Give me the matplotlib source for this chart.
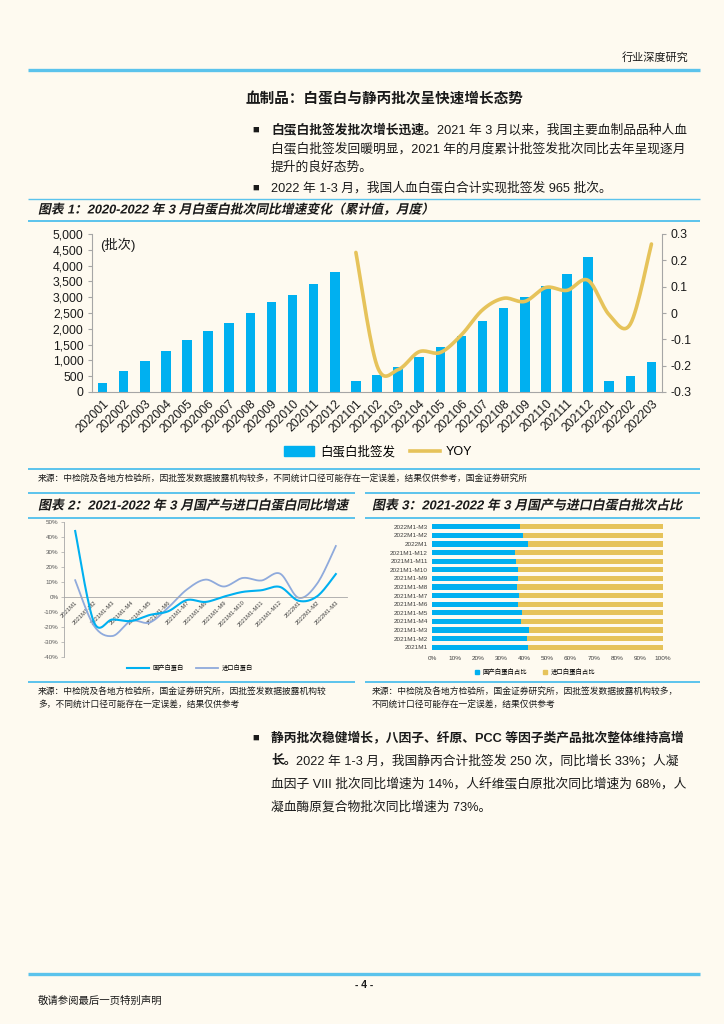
import numpy as np
import matplotlib
matplotlib.use('Agg')
import matplotlib.pyplot as plt
from matplotlib.lines import Line2D
from matplotlib.patches import Rectangle
from matplotlib.transforms import Affine2D
from matplotlib.patheffects import AbstractPathEffect

plt.rcParams['font.family'] = ['Liberation Sans', 'Noto Sans CJK SC']
plt.rcParams['axes.unicode_minus'] = False

# ---------------- data ----------------
months1 = ['202001', '202002', '202003', '202004', '202005', '202006', '202007', '202008',
           '202009', '202010', '202011', '202012', '202101', '202102', '202103', '202104',
           '202105', '202106', '202107', '202108', '202109', '202110', '202111', '202112',
           '202201', '202202', '202203']
approvals = [280, 660, 980, 1300, 1645, 1940, 2195, 2500, 2860, 3080, 3430, 3810,
             350, 550, 780, 1110, 1420, 1780, 2240, 2650, 3000, 3370, 3745, 4260,
             345, 515, 965]
yoy = [np.nan] * 12 + [0.230, -0.200, -0.215, -0.147, -0.150, -0.083, 0.012, 0.056,
                       0.044, 0.097, 0.086, 0.124, -0.007, -0.042, 0.262]

periods = ['2021M1', '2021M1-M2', '2021M1-M3', '2021M1-M4', '2021M1-M5', '2021M1-M6',
           '2021M1-M7', '2021M1-M8', '2021M1-M9', '2021M1-M10', '2021M1-M11',
           '2021M1-M12', '2022M1', '2022M1-M2', '2022M1-M3']
domestic_yoy = [44, -16.5, -15, -16, -12, -9.5, -2, -3.3, 0.3, 3.4, 4.5, 6.7, -2.5, 0.5, 15.3]
import_yoy = [11.2, -19, -26, -16, -17, -7, 5, 11.6, 7, 12.7, 11, 15.6, -0.5, 9, 34]

domestic_share = [41.7, 41.0, 41.9, 38.6, 39.0, 37.1, 37.7, 36.8, 37.1, 37.1, 36.4, 36.0,
                  41.4, 39.6, 38.1]

# ---------------- style ----------------
W, H = 724, 1024
BG = '#FEFAF0'
LINE_BLUE = '#5BC3EC'
BAR = '#00B0F0'
GOLD = '#E6C35A'
LAV = '#8FAADC'
TXT = '#1A1A1A'
AX = '#A6A6A6'

fig = plt.figure(figsize=(W / 100, H / 100), dpi=100, facecolor=BG)
renderer = fig.canvas.get_renderer()


class Slant(AbstractPathEffect):
    def __init__(self, deg=12):
        super().__init__()
        self.deg = deg

    def draw_path(self, renderer, gc, tpath, affine, rgbFace=None):
        renderer.draw_path(gc, tpath, Affine2D().skew_deg(self.deg, 0) + affine, rgbFace)


def fx(x):
    return x / W


def fy(y):
    return 1 - y / H


def hline(y, x0, x1, lw=1.2, color=LINE_BLUE):
    fig.add_artist(Line2D([fx(x0), fx(x1)], [fy(y), fy(y)], color=color, lw=lw,
                          solid_capstyle='butt'))


def ftext(x, y, s, fs=9, weight='normal', ha='left', italic=False, color=TXT):
    t = fig.text(fx(x), fy(y), s, fontsize=fs, fontweight=weight, ha=ha, va='center',
                 color=color)
    if italic:
        t.set_path_effects([Slant(12)])
    return t


def seg_line(x, y, segs, fs=9):
    for s, w in segs:
        t = ftext(x, y, s, fs=fs, weight=w)
        bb = t.get_window_extent(renderer)
        x = bb.x1


def smooth(xs, ys, n=16):
    xs = np.asarray(xs, float)
    ys = np.asarray(ys, float)
    N = len(xs)
    ox, oy = [], []
    for i in range(N - 1):
        i0, i3 = max(i - 1, 0), min(i + 2, N - 1)
        t = np.linspace(0, 1, n, endpoint=(i == N - 2))
        for arr, out in ((xs, ox), (ys, oy)):
            p0, p1, p2, p3 = arr[i0], arr[i], arr[i + 1], arr[i3]
            c1 = p1 + (p2 - p0) / 6
            c2 = p2 - (p3 - p1) / 6
            out.extend((1 - t) ** 3 * p1 + 3 * (1 - t) ** 2 * t * c1 +
                       3 * (1 - t) * t ** 2 * c2 + t ** 3 * p2)
    return np.array(ox), np.array(oy)


# ---------------- header / body text ----------------
ftext(688, 57, '行业深度研究', fs=8, ha='right')
hline(70, 28, 700, lw=2.4)

ftext(246, 99, '血制品：白蛋白与静丙批次呈快速增长态势', fs=10.5, weight='bold')

FS = 9.2
ftext(252, 130, '■', fs=8)
seg_line(271, 130, [('白蛋白批签发批次增长迅速。', 'bold'),
                    ('2021 年 3 月以来，我国主要血制品品种人血', 'normal')], fs=FS)
ftext(271, 149, '白蛋白批签发回暖明显，2021 年的月度累计批签发批次同比去年呈现逐月', fs=FS)
ftext(271, 168, '提升的良好态势。', fs=FS)
ftext(252, 188, '■', fs=8)
ftext(271, 188, '2022 年 1-3 月，我国人血白蛋白合计实现批签发 965 批次。', fs=FS)

# ---------------- chart 1 ----------------
hline(199, 28, 700, lw=1.0)
ftext(38, 210, '图表 1：2020-2022 年 3 月白蛋白批次同比增速变化（累计值，月度）', fs=9.2,
      weight='bold', italic=True)
hline(221, 28, 700, lw=1.4)

ax1 = fig.add_axes([fx(92), fy(392), fx(662) - fx(92), fy(234) - fy(392)])
ax1.set_facecolor('none')
x = np.arange(len(months1))
ax1.bar(x, approvals, width=0.45, color=BAR, zorder=2)
ax1.set_xlim(-0.5, len(months1) - 0.5)
ax1.set_ylim(0, 5000)
ax1.set_yticks(np.arange(0, 5001, 500))
ax1.set_yticklabels([f'{v:,}' for v in range(0, 5001, 500)], fontsize=8.8, color=TXT)
ax1.set_xticks(x)
ax1.set_xticklabels(months1, rotation=45, ha='right', rotation_mode='anchor', fontsize=8.8,
                    color=TXT)
ax1.tick_params(axis='x', length=0, pad=4)
ax1.tick_params(axis='y', length=3, color=AX, pad=3)
for s in ('top', 'right'):
    ax1.spines[s].set_visible(False)
for s in ('left', 'bottom'):
    ax1.spines[s].set_color(AX)
    ax1.spines[s].set_linewidth(0.8)
ax1.text(0.015, 0.93, '(批次)', transform=ax1.transAxes, fontsize=9.5, color=TXT,
         va='center', ha='left')

ax2 = ax1.twinx()
idx = [i for i, v in enumerate(yoy) if not np.isnan(v)]
sx, sy = smooth(idx, [yoy[i] for i in idx])
ax2.plot(sx, sy, color=GOLD, lw=2.6, solid_capstyle='round', zorder=3)
ax2.set_ylim(-0.3, 0.3)
yt = [-0.3, -0.2, -0.1, 0, 0.1, 0.2, 0.3]
ax2.set_yticks(yt)
ax2.set_yticklabels(['-0.3', '-0.2', '-0.1', '0', '0.1', '0.2', '0.3'], fontsize=8.8,
                    color=TXT)
ax2.tick_params(axis='y', length=3, color=AX, pad=3)
for s in ('top', 'left', 'bottom'):
    ax2.spines[s].set_visible(False)
ax2.spines['right'].set_color(AX)
ax2.spines['right'].set_linewidth(0.8)

h1 = Rectangle((0, 0), 1, 1, color=BAR)
h2 = Line2D([], [], color=GOLD, lw=2.6)
fig.legend([h1, h2], ['白蛋白批签发', 'YOY'], loc='center',
           bbox_to_anchor=(fx(378), fy(452)), ncol=2, frameon=False, fontsize=9,
           handlelength=2.4, handleheight=0.9, columnspacing=1.2, handletextpad=0.5)

hline(469, 28, 700, lw=1.4)
ftext(38, 478, '来源：中检院及各地方检验所，因批签发数据披露机构较多，不同统计口径可能存在一定误差，结果仅供参考，国金证券研究所',
      fs=6.3)

# ---------------- chart 2 ----------------
hline(493, 28, 355, lw=1.4)
hline(493, 365, 700, lw=1.4)
ftext(38, 506, '图表 2：2021-2022 年 3 月国产与进口白蛋白同比增速', fs=9.3, weight='bold',
      italic=True)
ftext(372, 506, '图表 3：2021-2022 年 3 月国产与进口白蛋白批次占比', fs=9.3, weight='bold',
      italic=True)
hline(518, 28, 355, lw=1.4)
hline(518, 365, 700, lw=1.4)

ax3 = fig.add_axes([fx(64), fy(657), fx(347) - fx(64), fy(522) - fy(657)])
ax3.set_facecolor('none')
ax3.spines['bottom'].set_position(('data', 0))
x2 = np.arange(len(periods))
dx, dy = smooth(x2, domestic_yoy)
ix, iy = smooth(x2, import_yoy)
ax3.plot(ix, iy, color=LAV, lw=1.3, zorder=2)
ax3.plot(dx, dy, color=BAR, lw=1.5, zorder=3)
ax3.set_xlim(-0.6, len(periods) - 0.4)
ax3.set_ylim(-40, 50)
ax3.set_yticks(np.arange(-40, 51, 10))
ax3.set_yticklabels([f'{v}%' for v in range(-40, 51, 10)], fontsize=4.5, color='#595959')
ax3.set_xticks(x2)
ax3.set_xticklabels(periods, rotation=45, ha='right', rotation_mode='anchor', fontsize=4.2,
                    color='#404040')
for s in ('top', 'right'):
    ax3.spines[s].set_visible(False)
for s in ('left', 'bottom'):
    ax3.spines[s].set_color('#A6A6A6')
    ax3.spines[s].set_linewidth(0.6)
ax3.tick_params(axis='y', length=2, width=0.5, color='#A6A6A6', pad=2)
ax3.tick_params(axis='x', length=0, pad=2)

l1 = Line2D([], [], color=BAR, lw=1.5)
l2 = Line2D([], [], color=LAV, lw=1.3)
fig.legend([l1, l2], ['国产白蛋白', '进口白蛋白'], loc='center',
           bbox_to_anchor=(fx(190), fy(668)), ncol=2, frameon=False, fontsize=4.5,
           handlelength=3.5, columnspacing=2.0, handletextpad=0.6)

# ---------------- chart 3 ----------------
ax4 = fig.add_axes([fx(432), fy(651.5), fx(663) - fx(432), fy(522.5) - fy(651.5)])
ax4.set_facecolor('none')
y4 = np.arange(len(periods))
dom = np.array(domestic_share)
ax4.barh(y4, dom, height=0.62, color=BAR)
ax4.barh(y4, 100 - dom, left=dom, height=0.62, color=GOLD)
ax4.set_xlim(0, 100)
ax4.set_ylim(-0.5, len(periods) - 0.5)
ax4.set_yticks(y4)
ax4.set_yticklabels(periods, fontsize=4.6, color='#404040')
ax4.set_xticks(np.arange(0, 101, 10))
ax4.set_xticklabels([f'{v}%' for v in range(0, 101, 10)], fontsize=4.6, color='#404040')
for s in ax4.spines.values():
    s.set_visible(False)
ax4.tick_params(length=0, pad=3)

r1 = Rectangle((0, 0), 1, 1, color=BAR)
r2 = Rectangle((0, 0), 1, 1, color=GOLD)
fig.legend([r1, r2], ['国产白蛋白占比', '进口白蛋白占比'], loc='center',
           bbox_to_anchor=(fx(535), fy(672)), ncol=2, frameon=False, fontsize=4.6,
           handlelength=0.7, handleheight=0.7, columnspacing=2.5, handletextpad=0.5)

# ---------------- sources ----------------
hline(682, 28, 355, lw=1.4)
hline(682, 365, 700, lw=1.4)
ftext(38, 691, '来源：中检院及各地方检验所，国金证券研究所，因批签发数据披露机构较', fs=6.3)
ftext(38, 704, '多，不同统计口径可能存在一定误差，结果仅供参考', fs=6.3)
ftext(372, 691, '来源：中检院及各地方检验所，国金证券研究所，因批签发数据披露机构较多，', fs=6.3)
ftext(372, 704, '不同统计口径可能存在一定误差，结果仅供参考', fs=6.3)

# ---------------- bottom paragraph ----------------
ftext(252, 738, '■', fs=8)
ftext(271, 738, '静丙批次稳健增长，八因子、纤原、PCC 等因子类产品批次整体维持高增', fs=FS,
      weight='bold')
seg_line(271, 761, [('长。', 'bold'),
                    ('2022 年 1-3 月，我国静丙合计批签发 250 次，同比增长 33%；人凝', 'normal')],
         fs=FS)
ftext(271, 784, '血因子 VIII 批次同比增速为 14%，人纤维蛋白原批次同比增速为 68%，人', fs=FS)
ftext(271, 807, '凝血酶原复合物批次同比增速为 73%。', fs=FS)

# ---------------- footer ----------------
hline(974, 28, 700, lw=2.4)
ftext(364, 985, '- 4 -', fs=7.5, weight='bold', ha='center')
ftext(38, 1001, '敬请参阅最后一页特别声明', fs=7.5)

fig.savefig('out.png', dpi=100, facecolor=BG)
